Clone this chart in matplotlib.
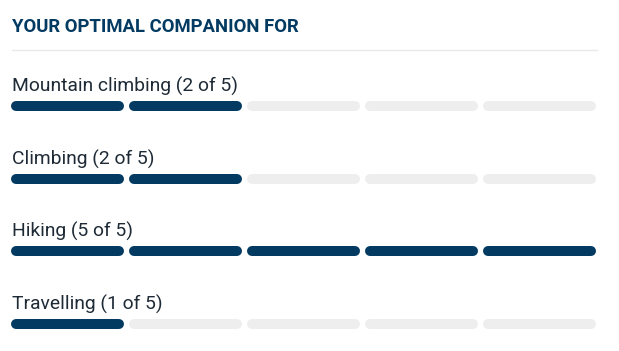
import matplotlib.pyplot as plt

# data
activities = ["Mountain climbing", "Climbing", "Hiking", "Travelling"]
scores = [2, 2, 5, 1]
max_score = 5
title = "YOUR OPTIMAL COMPANION FOR"

NAVY = "#033a62"
GRAY = "#eeeeee"
TEXT = "#1e2a35"

W, H = 619, 351
fig = plt.figure(figsize=(W / 100, H / 100), dpi=100)
ax = fig.add_axes([0, 0, 1, 1])
ax.set_xlim(0, W)
ax.set_ylim(H, 0)
ax.axis("off")

ax.text(12, 32, title, fontsize=13.35, fontweight="bold", color=NAVY,
        family="Roboto", va="baseline", ha="left")
ax.plot([12, 597], [50, 50], color="#eaeaea", lw=1)

left, seg_w, gap = 11, 112.7, 5.3
bar_h = 10  # px
lw_pt = bar_h * 72 / 100
row0, row_step = 106, 72.7

for i, (name, s) in enumerate(zip(activities, scores)):
    yc = row0 + i * row_step
    ax.text(12, yc - 14.3, f"{name} ({s} of {max_score})", fontsize=13.9,
            color=TEXT, family="Roboto", va="baseline", ha="left")
    for k in range(max_score):
        x0 = left + k * (seg_w + gap) + bar_h / 2
        x1 = left + k * (seg_w + gap) + seg_w - bar_h / 2
        ax.plot([x0, x1], [yc, yc], color=NAVY if k < s else GRAY,
                lw=lw_pt, solid_capstyle="round")

fig.savefig("out.png", dpi=100)
